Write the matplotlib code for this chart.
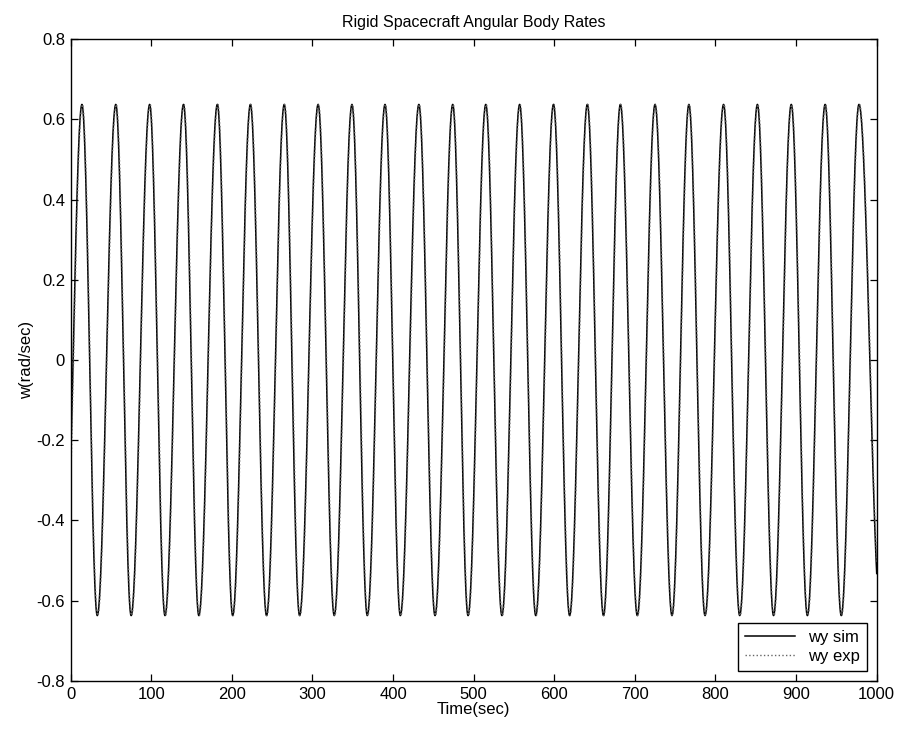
import numpy as np
import matplotlib
matplotlib.use("Agg")
import matplotlib.pyplot as plt

plt.rcParams['font.family'] = ['Liberation Sans', 'DejaVu Sans']
plt.rcParams['axes.unicode_minus'] = False

# ── Data ─────────────────────────────────────────────────────────────────────
# times (sec) of the maxima / minima of the sim trace, and their values
peak_t = [14, 56, 98, 140, 182, 223, 265, 307, 349, 390, 432, 474,
          515, 557, 599, 641, 682, 725, 767, 810, 852, 894, 936, 978]
peak_v = [0.637] * len(peak_t)
trough_t = [-8, 33, 75, 117, 159, 201, 243, 284, 327, 368, 409, 452, 493,
            535, 577, 619, 661, 703, 746, 787, 830, 872, 914, 956, 1005]
trough_v = [-0.637] * len(trough_t)
exp_shift = 0.6          # exp trace lags the sim trace slightly (sec)
t_end = 1000


def trace(ext_t, ext_v, t):
    """smooth half-cosine segments through the read extrema"""
    order = np.argsort(ext_t)
    et = np.asarray(ext_t, float)[order]
    ev = np.asarray(ext_v, float)[order]
    idx = np.clip(np.searchsorted(et, t) - 1, 0, len(et) - 2)
    t0, t1 = et[idx], et[idx + 1]
    v0, v1 = ev[idx], ev[idx + 1]
    f = (t - t0) / (t1 - t0)
    return v0 + (v1 - v0) * (1 - np.cos(np.pi * f)) / 2


t = np.linspace(0, t_end, 8000)
ext_t = peak_t + trough_t
ext_v = peak_v + trough_v
w_sim = trace(ext_t, ext_v, t)
w_exp = trace([x + exp_shift for x in ext_t], ext_v, t)

# ── Plot ─────────────────────────────────────────────────────────────────────
fig = plt.figure(figsize=(8.99, 7.32), dpi=100)
ax = fig.add_axes([0.0786, 0.0697, 0.8966, 0.877])

ax.plot(t, w_sim, '-', color='black', lw=1.1, label='wy sim')
ax.plot(t, w_exp, ':', color='#666666', lw=1.0, label='wy exp')

ax.set_xlim(0, 1000)
ax.set_ylim(-0.8, 0.8)
ax.set_xticks(np.arange(0, 1001, 100))
ax.set_yticks(np.round(np.arange(-0.8, 0.81, 0.2), 1))
ax.set_yticklabels(['-0.8', '-0.6', '-0.4', '-0.2', '0', '0.2', '0.4', '0.6', '0.8'])
ax.tick_params(direction='in', top=True, right=True, length=5, width=0.9,
               labelsize=12, pad=4)
for s in ax.spines.values():
    s.set_linewidth(1.0)

ax.set_title('Rigid Spacecraft Angular Body Rates', fontsize=11.5, pad=9)
ax.set_xlabel('Time(sec)', fontsize=12, labelpad=0)
ax.set_ylabel('w(rad/sec)', fontsize=12, labelpad=2)

leg = ax.legend(loc='lower right', fontsize=12, fancybox=False,
                edgecolor='black', framealpha=1, handlelength=3,
                borderaxespad=0.6, labelspacing=0.25)
leg.get_frame().set_linewidth(1.0)

fig.savefig('out.png', dpi=100)
